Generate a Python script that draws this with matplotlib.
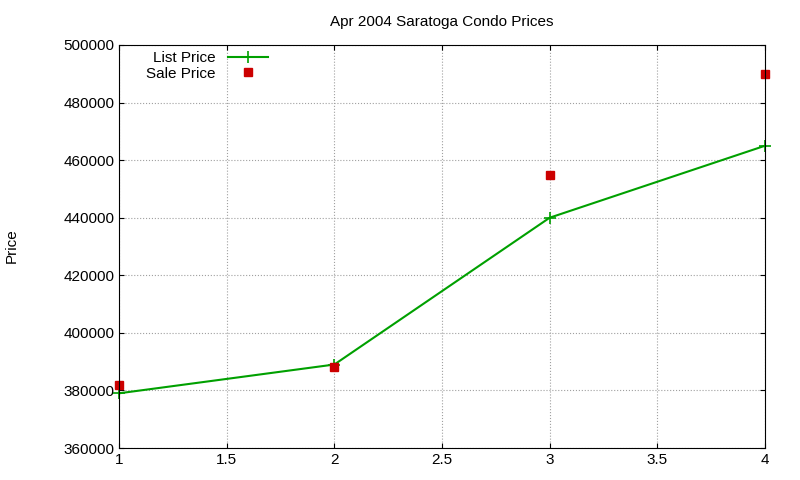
import matplotlib
matplotlib.use("Agg")
import matplotlib.pyplot as plt

plt.rcParams['font.family'] = ['Liberation Sans', 'DejaVu Sans']

x = [1, 2, 3, 4]
list_price = [379000, 389000, 440000, 465000]
sale_price = [382000, 388000, 455000, 490000]

fig = plt.figure(figsize=(8, 4.8), dpi=100)
ax = fig.add_axes([119/800, 1-448/480, (765-119)/800, (448-45)/480])
ax.plot(x, list_price, color='#00a000', lw=1.5, marker='+', ms=8, mew=1.2, label='List Price', clip_on=False)
ax.plot(x, sale_price, ls='none', marker='s', color='#cc0000', ms=5.5, label='Sale Price', clip_on=False)
ax.set_xlim(1, 4)
ax.set_ylim(360000, 500000)
ax.set_xticks([1, 1.5, 2, 2.5, 3, 3.5, 4])
ax.set_xticklabels(['1', '1.5', '2', '2.5', '3', '3.5', '4'])
ax.set_yticks(range(360000, 500001, 20000))
ax.grid(True, color='#a0a0a0', ls=':', lw=0.8)
ax.tick_params(direction='in', top=True, right=True, labelsize=11)
ax.set_title('Apr 2004 Saratoga Condo Prices', fontsize=11, pad=14)
fig.text(12/800, 1-246/480, 'Price', rotation=90, ha='center', va='center', fontsize=11)
leg = ax.legend(loc='upper left', bbox_to_anchor=(0.033, 1.0), frameon=False, markerfirst=False,
                fontsize=11, handlelength=2.6, labelspacing=0.1, borderaxespad=0)
for t in leg.get_texts():
    t.set_ha('right')
leg._legend_box.align = 'right'
fig.savefig('out.png')
